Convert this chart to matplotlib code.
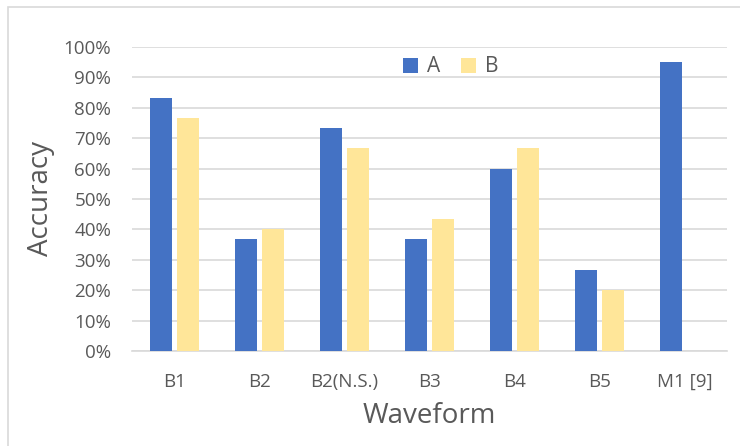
import matplotlib.pyplot as plt
from matplotlib.patches import Rectangle
from matplotlib.ticker import PercentFormatter
import numpy as np

plt.rcParams['font.family'] = ['Open Sans', 'DejaVu Sans']

# accuracy per waveform (fraction)
waveforms = ["B1", "B2", "B2(N.S.)", "B3", "B4", "B5", "M1 [9]"]
acc_a = [0.833, 0.367, 0.733, 0.367, 0.600, 0.267, 0.950]
acc_b = [0.767, 0.400, 0.667, 0.433, 0.667, 0.200, np.nan]

blue = "#4472C4"
yellow = "#FFE699"
grey_txt = "#595959"
grid_c = "#D9D9D9"

fig = plt.figure(figsize=(7.4, 4.46), dpi=100)
ax = fig.add_axes([132/740, 1 - 351/446, 595/740, 304/446])

x = np.arange(len(waveforms))
w = 0.25
off = 0.16
ax.bar(x - off, acc_a, w, color=blue, label="A", zorder=3)
ax.bar(x + off, acc_b, w, color=yellow, label="B", zorder=3)

ax.set_xlim(-0.5, len(waveforms) - 0.5)
ax.set_ylim(0, 1)
ax.set_yticks(np.arange(0, 1.01, 0.1))
ax.yaxis.set_major_formatter(PercentFormatter(1.0, decimals=0))
ax.set_xticks(x)
ax.set_xticklabels(waveforms)
ax.grid(axis='y', color=grid_c, linewidth=1.2, zorder=0)
ax.tick_params(length=0, labelsize=13.5, colors=grey_txt)
ax.tick_params(axis='y', pad=15)
ax.tick_params(axis='x', pad=16)
for s in ["top", "right", "left"]:
    ax.spines[s].set_visible(False)
ax.spines["bottom"].set_color(grid_c)
ax.spines["bottom"].set_linewidth(1.2)

ax.set_ylabel("Accuracy", fontsize=20, color=grey_txt, labelpad=6)
ax.set_xlabel("Waveform", fontsize=20, color=grey_txt, labelpad=8)

ax.legend(loc="upper center", bbox_to_anchor=(0.535, 1.01), ncol=2, frameon=False,
          fontsize=15, labelcolor=grey_txt, handlelength=0.75, handleheight=0.75,
          handletextpad=0.4, columnspacing=1.0, borderaxespad=0.2)

# light outer frame of the chart area
fig.patches.append(Rectangle((8/740, -0.1), 1.0, 1 - 7/446 + 0.1,
                             transform=fig.transFigure, fill=False,
                             edgecolor=grid_c, linewidth=1.2))

fig.savefig("out.png", dpi=100)
